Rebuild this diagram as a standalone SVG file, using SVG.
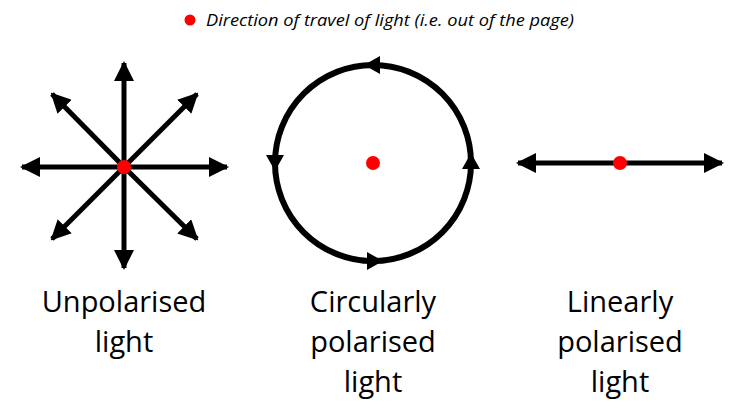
<svg xmlns="http://www.w3.org/2000/svg" width="738" height="404" viewBox="0 0 738 404">
<style>
.ln{stroke:#000;stroke-width:5;fill:none}
.lbl{font-family:"Open Sans","Liberation Sans",sans-serif;font-size:29px;text-anchor:middle;fill:#000}
.dot{fill:#f00}
</style>
<defs>
<marker id="ah" viewBox="0 0 10 10" refX="9" refY="5" markerWidth="4" markerHeight="4" orient="auto" markerUnits="strokeWidth"><path d="M0,0 L10,5 L0,10 Z" fill="#000"/></marker>
<path id="tri" d="M-8,-9 L8,0 L-8,9 Z" fill="#000"/>
</defs>
<rect width="738" height="404" fill="#fff"/>
<g id="legend">
<circle class="dot" cx="190" cy="20" r="5.5"/>
<text x="206" y="26" font-family="'Open Sans','Liberation Sans',sans-serif" font-size="16" font-style="italic" textLength="368" lengthAdjust="spacingAndGlyphs">Direction of travel of light (i.e. out of the page)</text>
</g>
<g id="connectors">
<line class="ln" x1="124" y1="167" x2="124" y2="63" marker-end="url(#ah)"/>
<line class="ln" x1="124" y1="167" x2="124" y2="268" marker-end="url(#ah)"/>
<line class="ln" x1="124" y1="167" x2="22" y2="167" marker-end="url(#ah)"/>
<line class="ln" x1="124" y1="167" x2="227" y2="167" marker-end="url(#ah)"/>
<line class="ln" x1="124" y1="167" x2="52" y2="94" marker-end="url(#ah)"/>
<line class="ln" x1="124" y1="167" x2="197" y2="94" marker-end="url(#ah)"/>
<line class="ln" x1="124" y1="167" x2="52" y2="239" marker-end="url(#ah)"/>
<line class="ln" x1="124" y1="167" x2="197" y2="239" marker-end="url(#ah)"/>
<line class="ln" x1="620" y1="163" x2="518" y2="163" marker-end="url(#ah)"/>
<line class="ln" x1="620" y1="163" x2="722" y2="163" marker-end="url(#ah)"/>
</g>
<g id="unpolarised">
<circle class="dot" cx="124" cy="167" r="7"/>
<text class="lbl" x="124" y="312">Unpolarised</text>
<text class="lbl" x="124" y="352">light</text>
</g>
<g id="circular">
<circle cx="373" cy="163" r="98" fill="none" stroke="#000" stroke-width="6"/>
<use href="#tri" transform="translate(372,65) rotate(180)"/>
<use href="#tri" transform="translate(275,163) rotate(90)"/>
<use href="#tri" transform="translate(375,261)"/>
<use href="#tri" transform="translate(471,161) rotate(-90)"/>
<circle class="dot" cx="373" cy="163" r="7"/>
<text class="lbl" x="373" y="312">Circularly</text>
<text class="lbl" x="373" y="352">polarised</text>
<text class="lbl" x="373" y="392">light</text>
</g>
<g id="linear">
<circle class="dot" cx="620" cy="163" r="7"/>
<text class="lbl" x="620" y="312">Linearly</text>
<text class="lbl" x="620" y="352">polarised</text>
<text class="lbl" x="620" y="392">light</text>
</g>
</svg>
